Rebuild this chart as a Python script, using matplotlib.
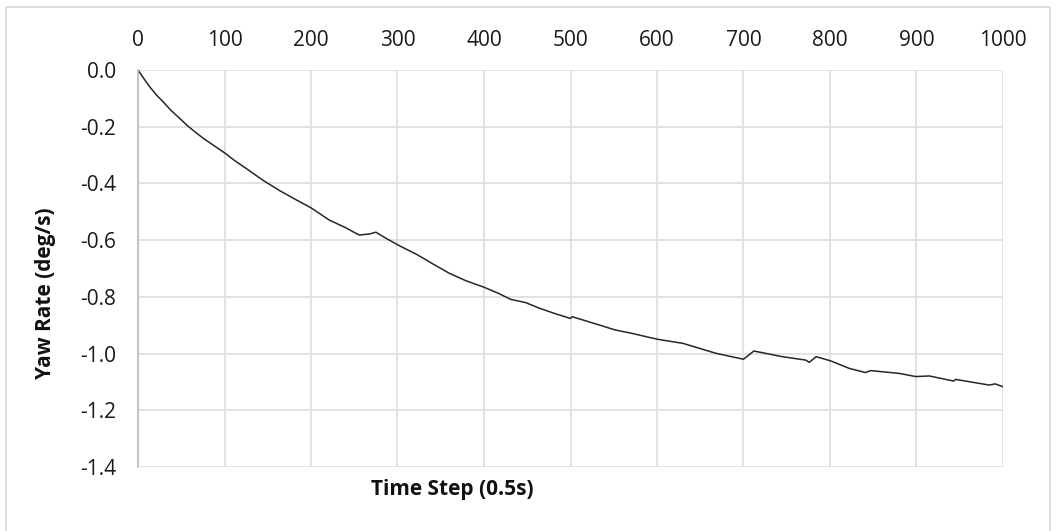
"""Yaw rate vs time step, Excel-style line chart with the category axis on top."""
import matplotlib
matplotlib.use("Agg")
import matplotlib.pyplot as plt
from matplotlib.patches import Rectangle

plt.rcParams['font.family'] = ['Open Sans', 'DejaVu Sans']

# values
time_step = [0, 6, 13.5, 21, 29, 38, 48, 57, 67, 76, 86.5, 100, 112, 125, 144, 163.5,
             183, 200, 221, 240, 252, 256, 262, 268, 275, 287, 303, 322, 341, 360,
             379, 400, 417, 431, 448, 464, 483, 500, 502, 533, 552, 571.5, 591,
             601.5, 630, 668, 700, 712, 745, 772, 776, 784, 791, 801, 810, 822, 841,
             847, 880, 899, 915, 943, 945, 984, 991, 1000]
yaw_rate = [0, -0.027, -0.059, -0.087, -0.112, -0.142, -0.170, -0.196, -0.221,
            -0.242, -0.264, -0.292, -0.320, -0.347, -0.388, -0.425, -0.458, -0.486,
            -0.529, -0.556, -0.576, -0.582, -0.580, -0.578, -0.572, -0.594, -0.621,
            -0.650, -0.684, -0.717, -0.743, -0.766, -0.788, -0.809, -0.820, -0.840,
            -0.860, -0.876, -0.870, -0.899, -0.917, -0.929, -0.943, -0.950, -0.964,
            -0.999, -1.020, -0.991, -1.011, -1.023, -1.031, -1.011, -1.017, -1.026,
            -1.037, -1.052, -1.067, -1.060, -1.070, -1.081, -1.079, -1.097, -1.091,
            -1.111, -1.107, -1.117]
x_ticks = list(range(0, 1001, 100))
y_ticks = [0.0, -0.2, -0.4, -0.6, -0.8, -1.0, -1.2, -1.4]

W, H = 1056, 531
fig = plt.figure(figsize=(W / 100, H / 100), dpi=100)
ax = fig.add_axes([138 / W, 1 - 467 / H, (1003 - 138) / W, (467 - 70) / H])

ax.plot(time_step, yaw_rate, color='#262626', linewidth=1.1)

ax.set_xlim(0, 1000)
ax.set_ylim(-1.4, 0.0)
ax.set_xticks(x_ticks)
ax.set_yticks(y_ticks)
ax.set_yticklabels([f"{v:.1f}" for v in y_ticks])
ax.xaxis.tick_top()
ax.tick_params(axis='x', length=0, pad=13.5, labelsize=15, colors='#1a1a1a')
ax.tick_params(axis='y', length=0, pad=16, labelsize=15, colors='#1a1a1a')

grid_col = '#dbe0e9'
ax.grid(True, color=grid_col, linewidth=1.3)
ax.set_axisbelow(True)
for side in ['top', 'right', 'bottom']:
    ax.spines[side].set_visible(False)
ax.spines['left'].set_color('#b8c0cc')
ax.spines['left'].set_linewidth(1.3)

fig.text(452 / W, 1 - 490 / H, 'Time Step (0.5s)', ha='center', va='center',
         fontsize=15, fontweight='bold', color='#111111')
fig.text(46 / W, 1 - 293 / H, 'Yaw Rate (deg/s)', ha='center', va='center',
         rotation=90, fontsize=15, fontweight='bold', color='#111111')

# chart frame
fig.patches.append(Rectangle((6 / W, -0.01), (1050 - 6) / W, 1 - 7 / H + 0.01,
                             transform=fig.transFigure, fill=False,
                             edgecolor='#d9d9d9', linewidth=1.2))

fig.savefig('out.png', dpi=100)
